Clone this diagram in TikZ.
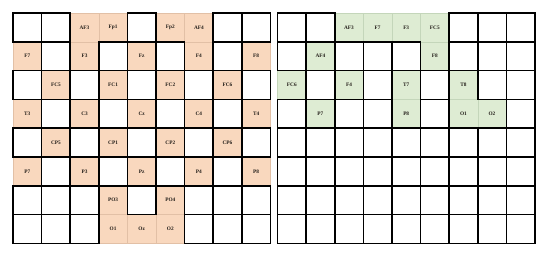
\documentclass[tikz,border=0pt]{standalone}
\usepackage{fontspec}
\setmainfont{Liberation Serif}
\definecolor{peach}{RGB}{249,216,190}
\definecolor{peachline}{RGB}{226,192,166}
\definecolor{mint}{RGB}{222,236,211}
\definecolor{mintline}{RGB}{196,214,186}
\definecolor{labeltext}{RGB}{35,30,25}
\begin{document}
\begin{tikzpicture}[x=1pt,y=-1pt,
  cellpeach/.style={draw=peachline,line width=0.4pt,fill=peach,minimum width=28.6pt,minimum height=28.8pt,inner sep=0pt,anchor=center,font=\fontsize{5.3}{6}\selectfont\bfseries,text=labeltext},
  cellmint/.style={cellpeach,draw=mintline,fill=mint},
  whitecell/.style={draw=black,line width=1.6pt}]
\useasboundingbox (0,0) rectangle (550,257);
\def\cw{28.6}\def\ch{28.8}
\def\dashmark{-}
\def\leftrows{{-,-,AF3,Fp1,-,Fp2,AF4,-,-},{F7,-,F3,-,Fz,-,F4,-,F8},{-,FC5,-,FC1,-,FC2,-,FC6,-},{T3,-,C3,-,Cz,-,C4,-,T4},{-,CP5,-,CP1,-,CP2,-,CP6,-},{P7,-,P3,-,Pz,-,P4,-,P8},{-,-,-,PO3,-,PO4,-,-,-},{-,-,-,O1,Oz,O2,-,-,-}}
\def\rightrows{{-,-,AF3,F7,F3,FC5,-,-,-},{-,AF4,-,-,-,F8,-,-,-},{FC6,-,F4,-,T7,-,T8,-,-},{-,P7,-,-,P8,-,O1,O2,-},{-,-,-,-,-,-,-,-,-},{-,-,-,-,-,-,-,-,-},{-,-,-,-,-,-,-,-,-},{-,-,-,-,-,-,-,-,-}}
% coloured cells
\foreach \rowlist [count=\r] in \leftrows {
  \foreach \lab [count=\c] in \rowlist {
    \ifx\lab\dashmark\else
      \node[cellpeach] (L-\r-\c) at ({13+(\c-0.5)*\cw},{13+(\r-0.5)*\ch}) {\lab};
    \fi
  }
}
\foreach \rowlist [count=\r] in \rightrows {
  \foreach \lab [count=\c] in \rowlist {
    \ifx\lab\dashmark\else
      \node[cellmint] (R-\r-\c) at ({277.5+(\c-0.5)*\cw},{13+(\r-0.5)*\ch}) {\lab};
    \fi
  }
}
% white cells with black borders
\foreach \rowlist [count=\r] in \leftrows {
  \foreach \lab [count=\c] in \rowlist {
    \ifx\lab\dashmark
      \draw[whitecell] ({13+(\c-1)*\cw},{13+(\r-1)*\ch}) rectangle ++(\cw,\ch);
    \fi
  }
}
\foreach \rowlist [count=\r] in \rightrows {
  \foreach \lab [count=\c] in \rowlist {
    \ifx\lab\dashmark
      \draw[whitecell] ({277.5+(\c-1)*\cw},{13+(\r-1)*\ch}) rectangle ++(\cw,\ch);
    \fi
  }
}
\end{tikzpicture}
\end{document}
